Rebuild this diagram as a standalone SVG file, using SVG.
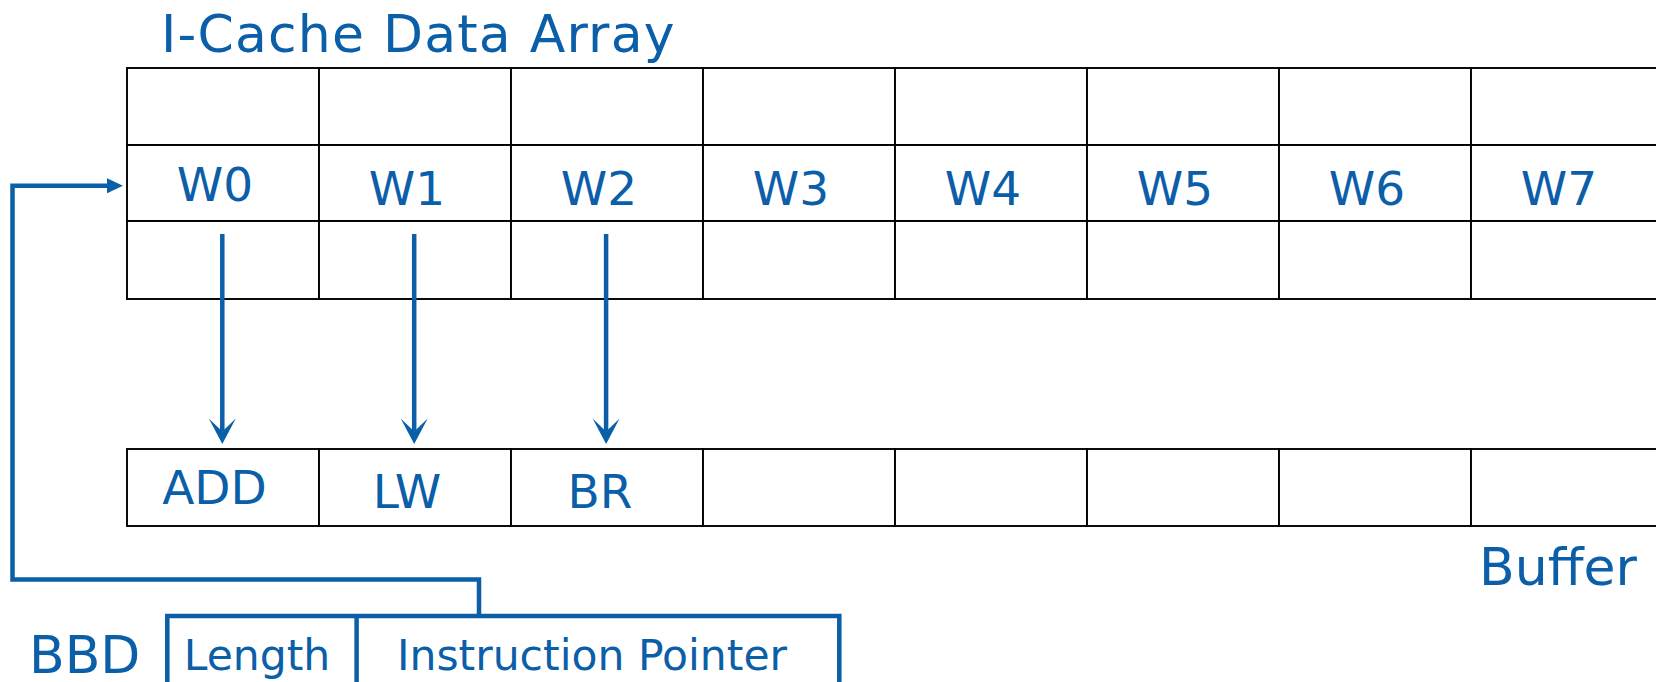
<svg xmlns="http://www.w3.org/2000/svg" width="1656" height="682" viewBox="0 0 1656 682">
  <style>
    .cell { fill: #ffffff; stroke: #000000; stroke-width: 1.9; }
    .lbl { font-family: "DejaVu Sans", Verdana, sans-serif; fill: #0B5EA8; }
    .big { font-size: 52px; }
    .word { font-size: 47px; text-anchor: middle; }
    .field { font-size: 42.5px; text-anchor: middle; }
    .bbd { fill: none; stroke: #0B5EA8; stroke-width: 4.5; }
    .wire { fill: none; stroke: #0B5EA8; stroke-width: 4.5; }
  </style>
  <defs>
    <marker id="stealth" markerUnits="userSpaceOnUse" viewBox="-15 -15 30 30" markerWidth="30" markerHeight="30" refX="0" refY="0" orient="auto">
      <path d="M12.5,0 L-13,-13.5 L0,0 L-13,13.5 Z" fill="#0B5EA8"/>
    </marker>
    <marker id="tri" markerUnits="userSpaceOnUse" viewBox="-1 -9 18 18" markerWidth="18" markerHeight="18" refX="0" refY="0" orient="auto">
      <path d="M0,-7.5 L16,0 L0,7.5 Z" fill="#0B5EA8"/>
    </marker>
  </defs>

  <rect width="1656" height="682" fill="#ffffff"/>

  <!-- I-cache data array: three rows of eight words -->
  <g id="icache">
    <text class="lbl big" x="161" y="52" letter-spacing="1.2">I-Cache Data Array</text>
    <g id="icache-row0">
      <rect class="cell" x="127" y="68" width="192" height="77"/>
      <rect class="cell" x="319" y="68" width="192" height="77"/>
      <rect class="cell" x="511" y="68" width="192" height="77"/>
      <rect class="cell" x="703" y="68" width="192" height="77"/>
      <rect class="cell" x="895" y="68" width="192" height="77"/>
      <rect class="cell" x="1087" y="68" width="192" height="77"/>
      <rect class="cell" x="1279" y="68" width="192" height="77"/>
      <rect class="cell" x="1471" y="68" width="192" height="77"/>
    </g>
    <g id="icache-row1">
      <rect class="cell" x="127" y="145" width="192" height="76"/>
      <rect class="cell" x="319" y="145" width="192" height="76"/>
      <rect class="cell" x="511" y="145" width="192" height="76"/>
      <rect class="cell" x="703" y="145" width="192" height="76"/>
      <rect class="cell" x="895" y="145" width="192" height="76"/>
      <rect class="cell" x="1087" y="145" width="192" height="76"/>
      <rect class="cell" x="1279" y="145" width="192" height="76"/>
      <rect class="cell" x="1471" y="145" width="192" height="76"/>
      <text class="lbl word" x="215" y="201">W0</text>
      <text class="lbl word" x="407" y="204.5">W1</text>
      <text class="lbl word" x="599" y="204.5">W2</text>
      <text class="lbl word" x="791" y="204.5">W3</text>
      <text class="lbl word" x="983" y="204.5">W4</text>
      <text class="lbl word" x="1175" y="204.5">W5</text>
      <text class="lbl word" x="1367" y="204.5">W6</text>
      <text class="lbl word" x="1559" y="204.5">W7</text>
    </g>
    <g id="icache-row2">
      <rect class="cell" x="127" y="221" width="192" height="78"/>
      <rect class="cell" x="319" y="221" width="192" height="78"/>
      <rect class="cell" x="511" y="221" width="192" height="78"/>
      <rect class="cell" x="703" y="221" width="192" height="78"/>
      <rect class="cell" x="895" y="221" width="192" height="78"/>
      <rect class="cell" x="1087" y="221" width="192" height="78"/>
      <rect class="cell" x="1279" y="221" width="192" height="78"/>
      <rect class="cell" x="1471" y="221" width="192" height="78"/>
    </g>
  </g>

  <!-- Instruction buffer -->
  <g id="buffer">
    <rect class="cell" x="127" y="449" width="192" height="77"/>
    <rect class="cell" x="319" y="449" width="192" height="77"/>
    <rect class="cell" x="511" y="449" width="192" height="77"/>
    <rect class="cell" x="703" y="449" width="192" height="77"/>
    <rect class="cell" x="895" y="449" width="192" height="77"/>
    <rect class="cell" x="1087" y="449" width="192" height="77"/>
    <rect class="cell" x="1279" y="449" width="192" height="77"/>
    <rect class="cell" x="1471" y="449" width="192" height="77"/>
    <text class="lbl word" x="214.5" y="504">ADD</text>
    <text class="lbl word" x="407" y="508">LW</text>
    <text class="lbl word" x="600" y="508">BR</text>
    <text class="lbl big" x="1479" y="584.5">Buffer</text>
  </g>

  <!-- Basic block descriptor -->
  <g id="bbd">
    <text class="lbl big" x="29" y="673">BBD</text>
    <rect class="bbd" x="167.3" y="616" width="672" height="100"/>
    <line class="bbd" x1="356.6" y1="616" x2="356.6" y2="690"/>
    <text class="lbl field" x="257" y="670">Length</text>
    <text class="lbl field" x="592" y="670">Instruction Pointer</text>
  </g>

  <!-- Connectors -->
  <g id="connectors">
    <line class="wire" x1="222.3" y1="234" x2="222.3" y2="431.5" marker-end="url(#stealth)"/>
    <line class="wire" x1="414.2" y1="234" x2="414.2" y2="431.5" marker-end="url(#stealth)"/>
    <line class="wire" x1="606.1" y1="234" x2="606.1" y2="431.5" marker-end="url(#stealth)"/>
    <path class="wire" d="M479,614 V579.5 H12.5 V185.7 H107" marker-end="url(#tri)"/>
  </g>
</svg>
